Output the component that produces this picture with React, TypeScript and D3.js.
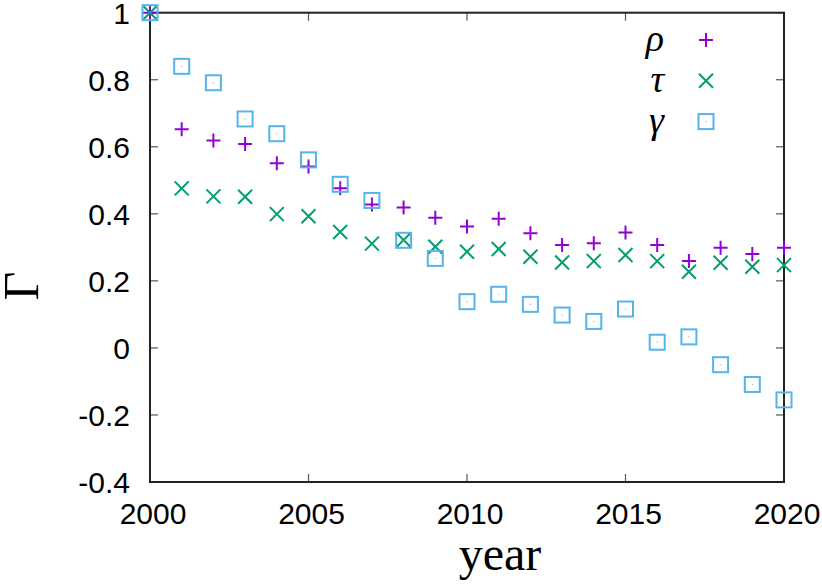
import React from "react";
import * as d3 from "d3";

const years = d3.range(2000, 2021);
const rho = [1, 0.652, 0.619, 0.608, 0.551, 0.541, 0.476, 0.428, 0.419, 0.388, 0.362, 0.385, 0.342, 0.307, 0.312, 0.344, 0.307, 0.259, 0.299, 0.28, 0.299];
const tau = [1, 0.476, 0.452, 0.451, 0.399, 0.393, 0.346, 0.311, 0.322, 0.302, 0.287, 0.295, 0.272, 0.255, 0.259, 0.277, 0.259, 0.227, 0.254, 0.242, 0.247];
const gamma = [1, 0.84, 0.791, 0.683, 0.639, 0.561, 0.488, 0.44, 0.321, 0.267, 0.138, 0.16, 0.13, 0.098, 0.079, 0.116, 0.017, 0.033, -0.05, -0.109, -0.155];

const xTicks = [2000, 2005, 2010, 2015, 2020];
const yTicks = [-0.4, -0.2, 0, 0.2, 0.4, 0.6, 0.8, 1];
const yTickLabels = ["-0.4", "-0.2", "0", "0.2", "0.4", "0.6", "0.8", "1"];

const seriesNames = ["ρ", "τ", "γ"];
const colors = ["#9400d3", "#009e73", "#56b4e9"];

const W = 822;
const H = 586;
const margin = { left: 150, right: 38, top: 12.7, bottom: 104 };

type Kind = "plus" | "cross" | "square";

const Marker = ({ x, y, kind, color }: { x: number; y: number; kind: Kind; color: string }) => {
  const s = 7;
  if (kind === "plus") {
    return (
      <path d={`M${x - s},${y}H${x + s}M${x},${y - s}V${y + s}`} stroke={color} strokeWidth={2} fill="none" />
    );
  }
  if (kind === "cross") {
    return (
      <path d={`M${x - s},${y - s}L${x + s},${y + s}M${x - s},${y + s}L${x + s},${y - s}`} stroke={color} strokeWidth={2} fill="none" />
    );
  }
  return (
    <g>
      <rect x={x - 7.5} y={y - 7.5} width={15} height={15} stroke={color} strokeWidth={2} fill="none" />
      <rect x={x - 0.5} y={y - 0.5} width={1} height={1} fill={color} />
    </g>
  );
};

export default function App() {
  const x = d3.scaleLinear().domain([2000, 2020]).range([margin.left, W - margin.right]);
  const y = d3.scaleLinear().domain([-0.4, 1]).range([H - margin.bottom, margin.top]);
  const x0 = x.range()[0];
  const x1 = x.range()[1];
  const y0 = y.range()[0];
  const y1 = y.range()[1];

  const series: { name: string; values: number[]; kind: Kind; color: string }[] = [
    { name: seriesNames[0], values: rho, kind: "plus", color: colors[0] },
    { name: seriesNames[1], values: tau, kind: "cross", color: colors[1] },
    { name: seriesNames[2], values: gamma, kind: "square", color: colors[2] },
  ];

  const tickFont = { fontFamily: "'Liberation Sans', Arial, sans-serif", fontSize: 30 };
  const serif = "'Liberation Serif', 'Times New Roman', serif";
  const tl = 8;

  return (
    <svg width={W} height={H} style={{ position: "absolute", left: 0, top: 0, background: "#fff" }}>
      {/* ticks */}
      {yTicks.map((t, i) => (
        <g key={"y" + t}>
          <line x1={x0} x2={x0 + tl} y1={y(t)} y2={y(t)} stroke="#555" strokeWidth={1.2} />
          <line x1={x1} x2={x1 - tl} y1={y(t)} y2={y(t)} stroke="#555" strokeWidth={1.2} />
          <text x={130} y={y(t)} dy="0.36em" textAnchor="end" {...tickFont} fill="#000">
            {yTickLabels[i]}
          </text>
        </g>
      ))}
      {xTicks.map((t) => (
        <g key={"x" + t}>
          <line x1={x(t)} x2={x(t)} y1={y0} y2={y0 - tl} stroke="#555" strokeWidth={1.2} />
          <line x1={x(t)} x2={x(t)} y1={y1} y2={y1 + tl} stroke="#555" strokeWidth={1.2} />
          <text x={x(t) + 3} y={524} textAnchor="middle" {...tickFont} fill="#000">
            {t}
          </text>
        </g>
      ))}
      {/* frame */}
      <rect x={x0} y={y1} width={x1 - x0} height={y0 - y1} fill="none" stroke="#222" strokeWidth={2} />

      {/* points */}
      {series.map((s) => (
        <g key={s.name}>
          {s.values.map((v, i) => (
            <Marker key={i} x={x(years[i])} y={y(v)} kind={s.kind} color={s.color} />
          ))}
        </g>
      ))}

      {/* legend */}
      {series.map((s, i) => (
        <g key={"leg" + s.name}>
          <text x={664} y={40 + i * 40.8 + 11} textAnchor="end" fontFamily={serif} fontStyle="italic" fontSize={38}>
            {s.name}
          </text>
          <Marker x={706} y={40 + i * 40.8} kind={s.kind} color={s.color} />
        </g>
      ))}

      {/* axis labels */}
      <text transform={`translate(38,286) rotate(-90)`} textAnchor="middle" fontFamily={serif} fontSize={50}>
        Γ
      </text>
      <text x={500} y={570} textAnchor="middle" fontFamily={serif} fontSize={48}>
        year
      </text>
    </svg>
  );
}
